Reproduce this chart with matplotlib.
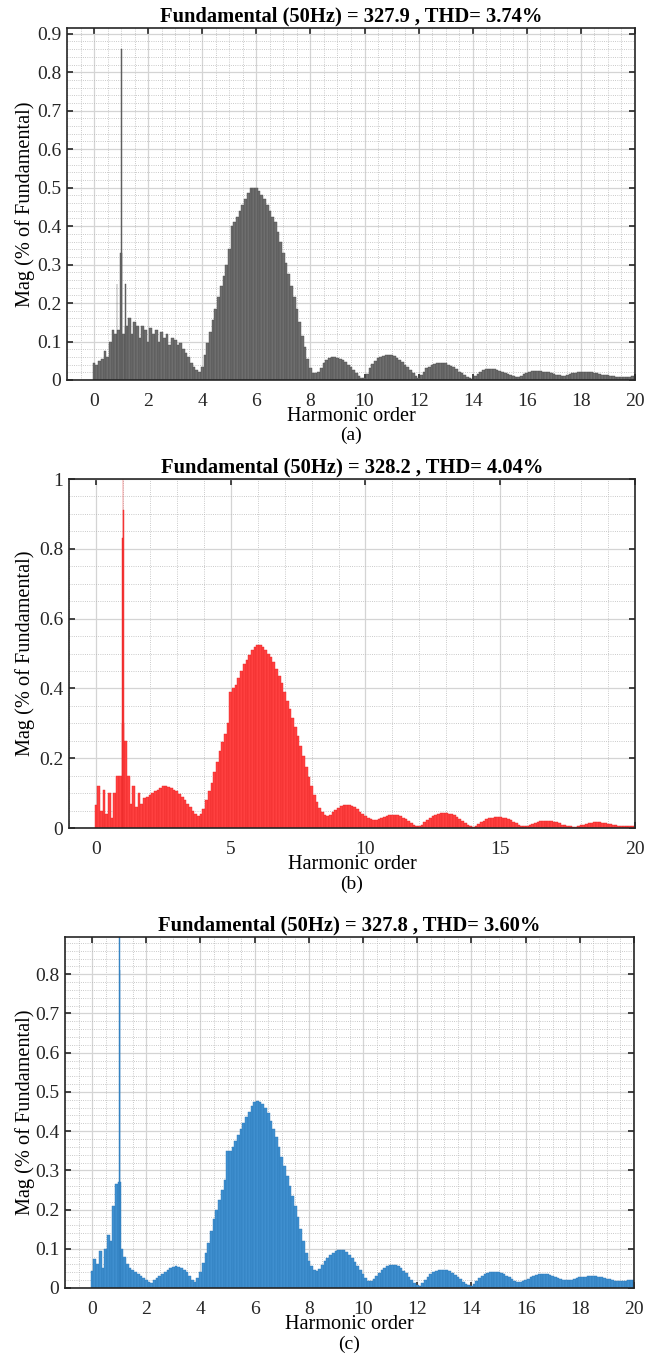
import numpy as np
import matplotlib
matplotlib.use("Agg")
import matplotlib.pyplot as plt
from matplotlib.ticker import MultipleLocator, FormatStrFormatter

plt.rcParams['font.family'] = ['Liberation Serif', 'DejaVu Serif']

# harmonic order axis, step 0.1 from 0 to 20
orders = np.round(np.arange(0, 201) * 0.1, 1)

# (a) grey spectrum
mags_a = [
    0.045, 0.04, 0.05, 0.055, 0.075, 0.06, 0.1, 0.13, 0.12, 0.13,
    0.33, 0.12, 0.14, 0.16, 0.12, 0.15, 0.14, 0.11, 0.14, 0.13,
    0.1, 0.135, 0.12, 0.13, 0.1, 0.125, 0.11, 0.12, 0.09, 0.11,
    0.105, 0.09, 0.095, 0.08, 0.07, 0.06, 0.045, 0.035, 0.025, 0.022,
    0.035, 0.065, 0.095, 0.125, 0.155, 0.185, 0.215, 0.245, 0.27, 0.3,
    0.34, 0.40, 0.41, 0.425, 0.44, 0.455, 0.47, 0.485, 0.5, 0.5,
    0.5, 0.49, 0.48, 0.47, 0.455, 0.44, 0.425, 0.41, 0.385, 0.36,
    0.33, 0.305, 0.275, 0.245, 0.215, 0.185, 0.15, 0.115, 0.085, 0.055,
    0.03, 0.018, 0.018, 0.022, 0.032, 0.043, 0.052, 0.058, 0.06, 0.06,
    0.058, 0.055, 0.052, 0.047, 0.04, 0.033, 0.026, 0.018, 0.011, 0.006,
    0.005, 0.015, 0.03, 0.042, 0.05, 0.056, 0.06, 0.063, 0.065, 0.065,
    0.064, 0.062, 0.058, 0.053, 0.047, 0.04, 0.033, 0.026, 0.018, 0.01,
    0.005, 0.012, 0.022, 0.03, 0.035, 0.039, 0.042, 0.044, 0.045, 0.044,
    0.043, 0.04, 0.037, 0.033, 0.028, 0.022, 0.017, 0.012, 0.008, 0.004,
    0.003, 0.01, 0.016, 0.021, 0.025, 0.028, 0.029, 0.029, 0.028, 0.026,
    0.024, 0.021, 0.018, 0.016, 0.014, 0.011, 0.009, 0.008, 0.011, 0.015,
    0.018, 0.021, 0.023, 0.024, 0.024, 0.023, 0.022, 0.021, 0.02, 0.018,
    0.016, 0.014, 0.012, 0.01, 0.01, 0.012, 0.015, 0.017, 0.019, 0.02,
    0.021, 0.021, 0.021, 0.02, 0.02, 0.019, 0.018, 0.016, 0.014, 0.013,
    0.012, 0.011, 0.01, 0.009, 0.009, 0.008, 0.008, 0.009, 0.009, 0.01,
    0.01,
]
peak_orders_a = [0.85, 1.0, 1.17]
peak_a = [0.25, 0.86, 0.25]

# (b) red spectrum
mags_b = [
    0.065, 0.12, 0.05, 0.11, 0.04, 0.1, 0.03, 0.1, 0.15, 0.15,
    0.3, 0.25, 0.15, 0.07, 0.12, 0.06, 0.1, 0.07, 0.085, 0.09,
    0.095, 0.1, 0.105, 0.11, 0.115, 0.12, 0.12, 0.118, 0.115, 0.11,
    0.105, 0.098, 0.09, 0.08, 0.07, 0.06, 0.05, 0.04, 0.033, 0.04,
    0.055, 0.08, 0.105, 0.13, 0.16, 0.19, 0.22, 0.245, 0.27, 0.3,
    0.39, 0.4, 0.41, 0.43, 0.45, 0.47, 0.48, 0.495, 0.51, 0.52,
    0.525, 0.525, 0.52, 0.51, 0.5, 0.49, 0.475, 0.455, 0.435, 0.415,
    0.39, 0.365, 0.34, 0.315, 0.29, 0.265, 0.235, 0.205, 0.175, 0.145,
    0.12, 0.095, 0.075, 0.058, 0.045, 0.037, 0.035, 0.038, 0.045, 0.052,
    0.058, 0.062, 0.065, 0.066, 0.066, 0.064, 0.06, 0.054, 0.047, 0.04,
    0.033, 0.028, 0.025, 0.023, 0.023, 0.025, 0.028, 0.031, 0.034, 0.036,
    0.037, 0.037, 0.036, 0.034, 0.03, 0.025, 0.02, 0.015, 0.01, 0.006,
    0.005, 0.01, 0.017, 0.024, 0.03, 0.035, 0.038, 0.041, 0.042, 0.042,
    0.042, 0.041, 0.039, 0.036, 0.032, 0.027, 0.021, 0.015, 0.009, 0.005,
    0.003, 0.007, 0.012, 0.017, 0.021, 0.025, 0.028, 0.03, 0.031, 0.031,
    0.031, 0.03, 0.028, 0.025, 0.022, 0.018, 0.014, 0.01, 0.007, 0.005,
    0.005, 0.008, 0.012, 0.015, 0.018, 0.02, 0.021, 0.021, 0.021, 0.02,
    0.018, 0.016, 0.013, 0.01, 0.008, 0.006, 0.005, 0.004, 0.004, 0.006,
    0.008, 0.01, 0.012, 0.014, 0.015, 0.016, 0.016, 0.016, 0.015, 0.014,
    0.012, 0.011, 0.01, 0.008, 0.007, 0.006, 0.006, 0.006, 0.005, 0.005,
    0.005,
]
peak_orders_b = [0.97, 1.0, 1.03]
peak_b = [0.83, 1.0, 0.91]

# (c) blue spectrum
mags_c = [
    0.043, 0.075, 0.06, 0.095, 0.05, 0.1, 0.135, 0.12, 0.21, 0.265,
    0.27, 0.1, 0.08, 0.06, 0.05, 0.045, 0.04, 0.035, 0.03, 0.025,
    0.02, 0.015, 0.013, 0.02, 0.025, 0.03, 0.035, 0.04, 0.045, 0.05,
    0.053, 0.055, 0.053, 0.05, 0.045, 0.04, 0.03, 0.02, 0.015, 0.025,
    0.04, 0.065, 0.09, 0.115, 0.145, 0.175, 0.2, 0.225, 0.25, 0.275,
    0.35, 0.35, 0.36, 0.375, 0.39, 0.405, 0.42, 0.435, 0.45, 0.465,
    0.475, 0.478, 0.475, 0.47, 0.46, 0.445, 0.425, 0.405, 0.385, 0.36,
    0.335, 0.31, 0.285, 0.26, 0.235, 0.21, 0.18, 0.15, 0.12, 0.09,
    0.07, 0.055, 0.047, 0.043, 0.048, 0.058, 0.068, 0.077, 0.085, 0.09,
    0.094, 0.097, 0.098, 0.096, 0.092, 0.085, 0.076, 0.066, 0.056, 0.046,
    0.036, 0.026, 0.019, 0.017, 0.022, 0.03, 0.038, 0.045, 0.051, 0.055,
    0.058, 0.059, 0.058, 0.055, 0.05, 0.044, 0.037, 0.029, 0.021, 0.013,
    0.008, 0.005, 0.012, 0.02, 0.028, 0.035, 0.04, 0.044, 0.046, 0.047,
    0.047, 0.046, 0.043, 0.039, 0.034, 0.028, 0.022, 0.016, 0.011, 0.007,
    0.005, 0.01, 0.018, 0.025, 0.031, 0.036, 0.039, 0.041, 0.042, 0.042,
    0.041, 0.038, 0.035, 0.031, 0.027, 0.023, 0.019, 0.016, 0.015, 0.017,
    0.02, 0.024, 0.028, 0.031, 0.033, 0.035, 0.036, 0.036, 0.035, 0.033,
    0.031, 0.028, 0.025, 0.023, 0.021, 0.02, 0.02, 0.021, 0.023, 0.025,
    0.027, 0.028, 0.029, 0.03, 0.03, 0.03, 0.03, 0.029, 0.028, 0.026,
    0.024, 0.022, 0.02, 0.019, 0.018, 0.018, 0.018, 0.019, 0.02, 0.02,
    0.021,
]
peak_orders_c = [1.0, 1.03]
peak_c = [0.95, 0.81]

titles = ["Fundamental (50Hz) = 327.9 , THD= 3.74%",
          "Fundamental (50Hz) = 328.2 , THD= 4.04%",
          "Fundamental (50Hz) = 327.8 , THD= 3.60%"]
tags = ["(a)", "(b)", "(c)"]

W, H = 659, 1355
fig = plt.figure(figsize=(W / 100, H / 100), dpi=100)

# left, top, right, bottom in pixels
boxes = [(67, 28, 635, 380), (69, 479, 635, 828), (65, 937, 634, 1288)]
tag_y = [435, 884, 1344]

panels = [
    (mags_a, peak_orders_a, peak_a, '#6e6e6e', '#4a4a4a', 0.915, 2, 0.5, 0.1, 0.02),
    (mags_b, peak_orders_b, peak_b, '#ff4040', '#e82424', 1.0, 5, 1, 0.2, 0.05),
    (mags_c, peak_orders_c, peak_c, '#3f8fcf', '#2a78b8', 0.895, 2, 0.5, 0.1, 0.02),
]

for i, (mags, pk_x, pk_y, col, ecol, ytop, xmaj, xmin, ymaj, ymin) in enumerate(panels):
    l, t, r, b = boxes[i]
    ax = fig.add_axes([l / W, 1 - b / H, (r - l) / W, (b - t) / H])
    ax.set_axisbelow(True)
    ax.bar(orders, mags, width=0.1, color=col, edgecolor=ecol, linewidth=0.3)
    ax.bar(pk_x, pk_y, width=0.03, color=col, edgecolor=ecol, linewidth=0.3)
    ax.set_xlim(-1, 20)
    ax.set_ylim(0, ytop)
    ax.xaxis.set_major_locator(MultipleLocator(xmaj))
    ax.xaxis.set_minor_locator(MultipleLocator(xmin))
    ax.yaxis.set_major_locator(MultipleLocator(ymaj))
    ax.yaxis.set_minor_locator(MultipleLocator(ymin))
    ax.xaxis.set_major_formatter(FormatStrFormatter('%g'))
    ax.yaxis.set_major_formatter(FormatStrFormatter('%g'))
    ax.grid(which='major', color='#d4d4d4', linewidth=0.9, linestyle='-')
    ax.grid(which='minor', color='#b8b8b8', linewidth=0.6, linestyle=':')
    ax.tick_params(which='major', direction='in', length=4, width=1.2,
                   top=True, right=True, labelsize=14, colors='#262626')
    ax.tick_params(which='major', axis='x', pad=9)
    ax.tick_params(which='major', axis='y', pad=4)
    ax.tick_params(which='minor', length=0)
    for s in ax.spines.values():
        s.set_color('#262626')
        s.set_linewidth(1.2)
    ax.set_title(titles[i], fontsize=14.8, fontweight='bold', pad=5)
    ax.set_xlabel("Harmonic order", fontsize=14.6, labelpad=-1.5)
    ax.set_ylabel("Mag (% of Fundamental)", fontsize=14.6)
    ax.yaxis.set_label_coords((35 - l) / (r - l), 0.5)
    fig.text((l + r) / 2 / W, 1 - tag_y[i] / H, tags[i], ha='center', va='center', fontsize=14)

fig.savefig("out.png", dpi=100)
